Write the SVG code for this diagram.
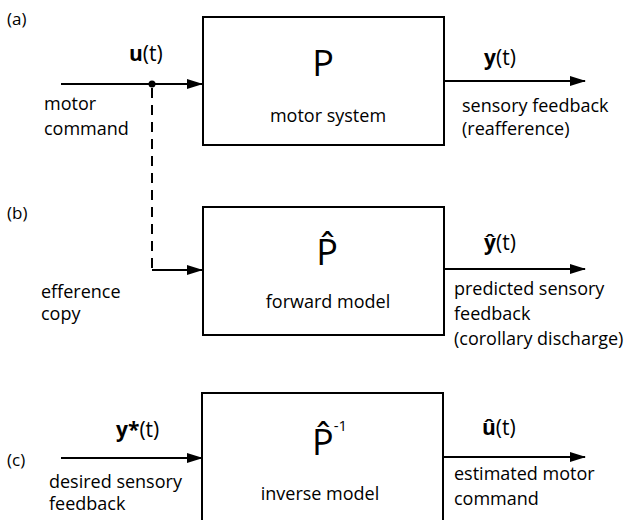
<svg xmlns="http://www.w3.org/2000/svg" width="632" height="520" viewBox="0 0 632 520">
<style>
text{font-family:"Open Sans","Noto Sans",sans-serif;fill:#000}
.lbl{font-size:18px}
.pl{font-size:17px}
.var{font-size:21px}
.big{font-size:36px}
.box{fill:#fff;stroke:#000;stroke-width:2}
.ln{stroke:#000;stroke-width:2;fill:none}
</style>
<defs>
<marker id="ah" markerWidth="16" markerHeight="10" refX="15" refY="5" orient="auto" markerUnits="userSpaceOnUse">
<path d="M0,0 L16,5 L0,10 Z" fill="#000"/>
</marker>
</defs>
<g id="panel-labels">
<text class="pl" x="7" y="25">(a)</text>
<text class="pl" x="7" y="219">(b)</text>
<text class="pl" x="7" y="466">(c)</text>
</g>
<g id="connectors">
<line class="ln" x1="61" y1="84" x2="202" y2="84" marker-end="url(#ah)"/>
<circle cx="152" cy="84" r="3.5" fill="#000"/>
<path class="ln" d="M152,88 V270" stroke-dasharray="10,7"/>
<line class="ln" x1="152" y1="270" x2="202" y2="270" marker-end="url(#ah)"/>
<line class="ln" x1="444" y1="81" x2="585" y2="81" marker-end="url(#ah)"/>
<line class="ln" x1="444" y1="269" x2="585" y2="269" marker-end="url(#ah)"/>
<line class="ln" x1="61" y1="458" x2="202" y2="458" marker-end="url(#ah)"/>
<line class="ln" x1="443" y1="457" x2="585" y2="457" marker-end="url(#ah)"/>
</g>
<g id="input-a">
<text class="var" x="129" y="61"><tspan font-weight="bold">u</tspan>(t)</text>
<text class="lbl" x="44" y="110">motor</text>
<text class="lbl" x="44" y="135">command</text>
</g>
<g id="node-P">
<rect class="box" x="203" y="17" width="241" height="128"/>
<text class="big" x="323" y="76" text-anchor="middle">P</text>
<text class="lbl" x="328" y="122" text-anchor="middle">motor system</text>
</g>
<g id="output-a">
<text class="var" x="484" y="65"><tspan font-weight="bold">y</tspan>(t)</text>
<text class="lbl" x="462" y="112">sensory feedback</text>
<text class="lbl" x="462" y="135">(reafference)</text>
</g>
<g id="input-b">
<text class="lbl" x="41" y="298">efference</text>
<text class="lbl" x="41" y="320">copy</text>
</g>
<g id="node-Phat">
<rect class="box" x="203" y="207" width="241" height="128"/>
<text class="big" x="327" y="265" text-anchor="middle">P̂</text>
<text class="lbl" x="328" y="308" text-anchor="middle">forward model</text>
</g>
<g id="output-b">
<text class="var" x="484" y="250"><tspan font-weight="bold">ŷ</tspan>(t)</text>
<text class="lbl" x="454" y="295">predicted sensory</text>
<text class="lbl" x="454" y="320">feedback</text>
<text class="lbl" x="454" y="345">(corollary discharge)</text>
</g>
<g id="input-c">
<text class="var" x="116" y="437"><tspan font-weight="bold">y*</tspan>(t)</text>
<text class="lbl" x="49" y="488">desired sensory</text>
<text class="lbl" x="49" y="510">feedback</text>
</g>
<g id="node-Pinv">
<rect class="box" x="202" y="393" width="241" height="140"/>
<text class="big" x="312" y="455">P̂<tspan font-size="15px" dy="-24">-1</tspan></text>
<text class="lbl" x="320" y="500" text-anchor="middle">inverse model</text>
</g>
<g id="output-c">
<text class="var" x="482" y="435"><tspan font-weight="bold">û</tspan>(t)</text>
<text class="lbl" x="454" y="480">estimated motor</text>
<text class="lbl" x="454" y="505">command</text>
</g>
</svg>
